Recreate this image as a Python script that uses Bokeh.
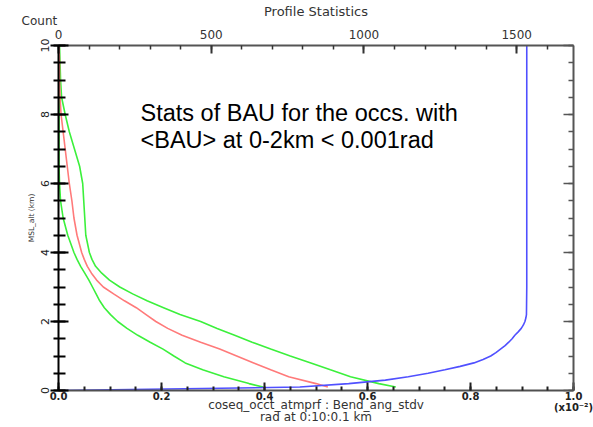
from bokeh.plotting import figure
from bokeh.models import (Range1d, LinearAxis, SingleIntervalTicker, Label,
                          PrintfTickFormatter, CustomJSTickFormatter)
from bokeh.embed import file_html
from bokeh.resources import INLINE

# ---------------- data ----------------
alt_stat = [0.1, 0.2, 0.4, 0.6, 0.8, 1.0, 1.2, 1.4, 1.6, 1.8, 2.0, 2.2, 2.4,
            2.6, 2.8, 3.0, 3.2, 3.4, 3.6, 3.8, 4.0, 4.5, 5.0, 5.5, 6.0, 6.5,
            7.0, 7.5, 8.0, 8.5, 9.0, 9.5, 10.0]
mean_bau = [0.523, 0.500, 0.447, 0.412, 0.379, 0.346, 0.313, 0.276, 0.240,
            0.212, 0.189, 0.170, 0.151, 0.128, 0.107, 0.087, 0.074, 0.064,
            0.056, 0.050, 0.045, 0.036, 0.030, 0.026, 0.021, 0.017, 0.013,
            0.009, 0.005, 0.003, 0.002, 0.002, 0.001]
upper_bau = [0.655, 0.622, 0.567, 0.528, 0.490, 0.450, 0.412, 0.376, 0.342,
             0.308, 0.276, 0.236, 0.204, 0.172, 0.144, 0.119, 0.099, 0.084,
             0.072, 0.065, 0.060, 0.053, 0.051, 0.049, 0.047, 0.041, 0.031,
             0.021, 0.013, 0.006, 0.004, 0.003, 0.002]
lower_bau = [0.397, 0.370, 0.321, 0.280, 0.246, 0.224, 0.203, 0.178, 0.154,
             0.133, 0.115, 0.101, 0.089, 0.080, 0.073, 0.066, 0.059, 0.051,
             0.043, 0.036, 0.030, 0.018, 0.009, 0.004, 0.002, 0.001, 0.001,
             0.001, 0.001, 0.001, 0.001, 0.001, 0.001]

alt_count = [0.0, 0.1, 0.2, 0.3, 0.4, 0.5, 0.6, 0.7, 0.8, 0.9, 1.0, 1.1, 1.2,
             1.3, 1.4, 1.5, 1.6, 1.7, 1.8, 1.9, 2.0, 2.1, 2.2, 3.0, 10.0]
count = [0, 790, 950, 1070, 1145, 1210, 1265, 1315, 1360, 1390, 1415, 1432,
         1447, 1462, 1474, 1485, 1494, 1505, 1515, 1522, 1527, 1530, 1532,
         1533, 1533]

x_range = (0.0, 1.0)
y_range = (0.0, 10.0)
count_range = (0, 1686)

title_text = "Profile Statistics"
count_label = "Count"
x_label = "coseq_occt_atmprf : Bend_ang_stdv\nrad at 0:10:0.1 km"
x_scale_note = "(x10\u207b\u00b2)"
y_label = "MSL_alt (km)"
note_1 = "Stats of BAU for the occs. with"
note_2 = "<BAU> at 0-2km < 0.001rad"

# ---------------- figure ----------------
W, H = 593, 427
FL, FR, FT, FB = 58, 573, 44, 391          # frame edges in canvas pixels
p = figure(width=W, height=H, x_range=Range1d(*x_range), y_range=Range1d(*y_range),
           output_backend="svg", toolbar_location=None,
           min_border_left=FL, min_border_right=W - FR, min_border_top=FT,
           min_border_bottom=H - FB, outline_line_color=None,
           background_fill_color="white", border_fill_color="white")
p.xgrid.visible = False
p.ygrid.visible = False
p.extra_x_ranges = {"count": Range1d(*count_range)}

FONT = "DejaVu Sans"

# bottom axis
bx = p.xaxis[0]
bx.ticker = SingleIntervalTicker(interval=0.2, num_minor_ticks=4)
bx.formatter = PrintfTickFormatter(format="%.1f")
bx.major_label_overrides = {1.0: "1.0\n" + x_scale_note}
bx.axis_line_color = "#505050"
bx.axis_line_width = 2
bx.major_tick_line_color = "#202020"
bx.minor_tick_line_color = "#202020"
bx.major_tick_line_width = 2
bx.minor_tick_line_width = 2
bx.major_tick_in = 8
bx.major_tick_out = 0
bx.minor_tick_in = 4
bx.minor_tick_out = 0
bx.major_label_text_font = FONT
bx.major_label_text_font_style = "bold"
bx.major_label_text_font_size = "10px"
bx.major_label_text_line_height = 1.0
bx.major_label_text_color = "#222222"
bx.major_label_standoff = 0
bx.axis_label = x_label
bx.axis_label_text_font = FONT
bx.axis_label_text_font_style = "normal"
bx.axis_label_text_font_size = "12px"
bx.axis_label_text_line_height = 0.92
bx.axis_label_text_color = "#333333"
bx.axis_label_standoff = -18

# left axis
ly = p.yaxis[0]
ly.ticker = SingleIntervalTicker(interval=2, num_minor_ticks=4)
ly.axis_line_color = "black"
ly.axis_line_width = 2
ly.major_tick_line_color = "black"
ly.minor_tick_line_color = "black"
ly.major_tick_line_width = 2
ly.minor_tick_line_width = 2
ly.major_tick_in = 10
ly.major_tick_out = 8
ly.minor_tick_in = 7
ly.minor_tick_out = 5
ly.major_label_orientation = "vertical"
ly.major_label_text_font = FONT
ly.major_label_text_font_size = "11px"
ly.major_label_text_color = "#222222"
ly.major_label_standoff = 2
ly.axis_label = y_label
ly.axis_label_text_font = FONT
ly.axis_label_text_font_style = "normal"
ly.axis_label_text_font_size = "7.5px"
ly.axis_label_text_color = "#333333"
ly.axis_label_standoff = 2

# top axis (count); "Count" rides on the 0 label, the title is its axis label
tx = LinearAxis(x_range_name="count",
                ticker=SingleIntervalTicker(interval=500, num_minor_ticks=5))
tx.major_label_overrides = {0: count_label + "\u00a0" * 10 + "\n0"}
tx.axis_line_color = "#555555"
tx.axis_line_width = 2
tx.major_tick_line_color = "#333333"
tx.minor_tick_line_color = "#333333"
tx.major_tick_line_width = 2
tx.minor_tick_line_width = 1.5
tx.major_tick_in = 8
tx.major_tick_out = 0
tx.minor_tick_in = 4
tx.minor_tick_out = 0
tx.major_label_text_font = FONT
tx.major_label_text_font_size = "12px"
tx.major_label_text_line_height = 1.0
tx.major_label_text_color = "#333333"
tx.major_label_standoff = 4
tx.axis_label = title_text
tx.axis_label_text_font = FONT
tx.axis_label_text_font_style = "normal"
tx.axis_label_text_font_size = "13px"
tx.axis_label_text_color = "#333333"
tx.axis_label_standoff = -8
p.add_layout(tx, "above")

# right axis (ticks only)
ry = LinearAxis(ticker=SingleIntervalTicker(interval=2, num_minor_ticks=4),
                formatter=CustomJSTickFormatter(code="return ''"))
ry.axis_line_color = "#555555"
ry.axis_line_width = 2
ry.major_tick_line_color = "#555555"
ry.minor_tick_line_color = "#555555"
ry.major_tick_line_width = 1.5
ry.minor_tick_line_width = 1.5
ry.major_tick_in = 10
ry.major_tick_out = 0
ry.minor_tick_in = 5
ry.minor_tick_out = 0
ry.major_label_standoff = 0
p.add_layout(ry, "right")

# ---------------- curves ----------------
p.line(lower_bau, alt_stat, line_color="#3cf03c", line_width=1.6)
p.line(upper_bau, alt_stat, line_color="#3cf03c", line_width=1.6)
p.line(mean_bau, alt_stat, line_color="#ff7a7a", line_width=1.6)
p.line(count, alt_count, line_color="#5050ff", line_width=1.6,
       x_range_name="count")

# ---------------- note inside the frame ----------------
for txt, py in ((note_1, 113), (note_2, 140)):
    p.add_layout(Label(x=140 - FL, y=FB - py, x_units="screen", y_units="screen",
                       text=txt, text_font="Liberation Sans",
                       text_font_size="23.5px", text_color="black",
                       text_align="left", text_baseline="alphabetic"))

open("out.html", "w").write(file_html(p, INLINE))
